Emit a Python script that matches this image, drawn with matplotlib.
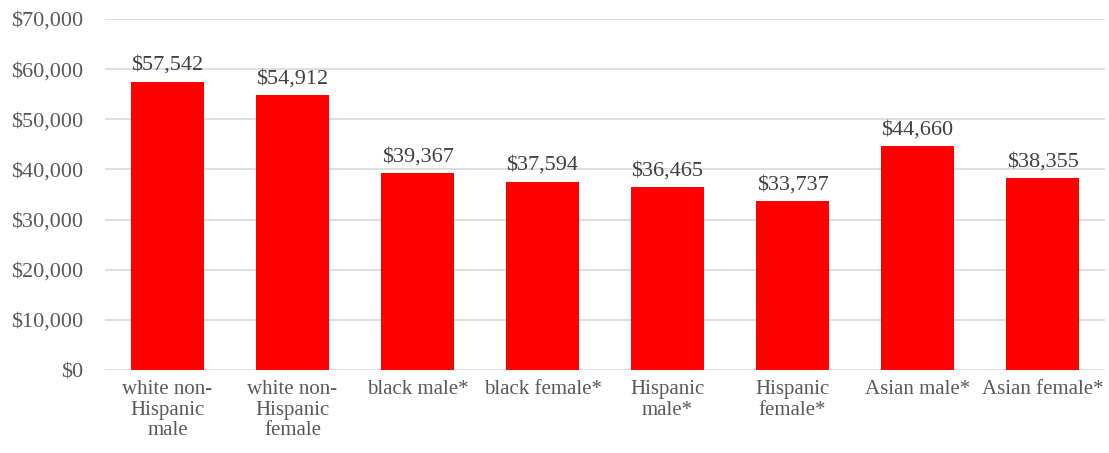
import matplotlib
matplotlib.use("Agg")
import matplotlib.pyplot as plt
from matplotlib.ticker import FuncFormatter

# median earnings by group
categories = ["white non-\nHispanic\nmale", "white non-\nHispanic\nfemale", "black male*",
              "black female*", "Hispanic\nmale*", "Hispanic\nfemale*", "Asian male*", "Asian female*"]
values = [57542, 54912, 39367, 37594, 36465, 33737, 44660, 38355]
yticks = [0, 10000, 20000, 30000, 40000, 50000, 60000, 70000]

plt.rcParams['font.family'] = ['Liberation Serif', 'DejaVu Serif']

fig = plt.figure(figsize=(11.09, 4.53), dpi=100)
ax = fig.add_axes([0.0947, 0.183, 0.9017, 0.775])

x = range(len(categories))
bars = ax.bar(x, values, width=0.58, color='#ff0000', zorder=3)

for b, v in zip(bars, values):
    ax.text(b.get_x() + b.get_width() / 2, v + 1300, f"${v:,}", ha='center', va='bottom',
            fontsize=16, color='#404040')

ax.set_xlim(-0.5, len(categories) - 0.5)
ax.set_ylim(0, 70000)
ax.set_yticks(yticks)
ax.yaxis.set_major_formatter(FuncFormatter(lambda v, p: f"${int(v):,}"))
ax.set_xticks(list(x))
ax.set_xticklabels(categories, fontsize=15, color='#595959', linespacing=1.12)
ax.tick_params(axis='y', labelsize=16, labelcolor='#595959', length=0, pad=16)
ax.tick_params(axis='x', length=0, pad=7)
ax.grid(axis='y', color='#d9d9d9', linewidth=1.2, zorder=0)
for s in ax.spines.values():
    s.set_visible(False)

fig.savefig("out.png", dpi=100)
